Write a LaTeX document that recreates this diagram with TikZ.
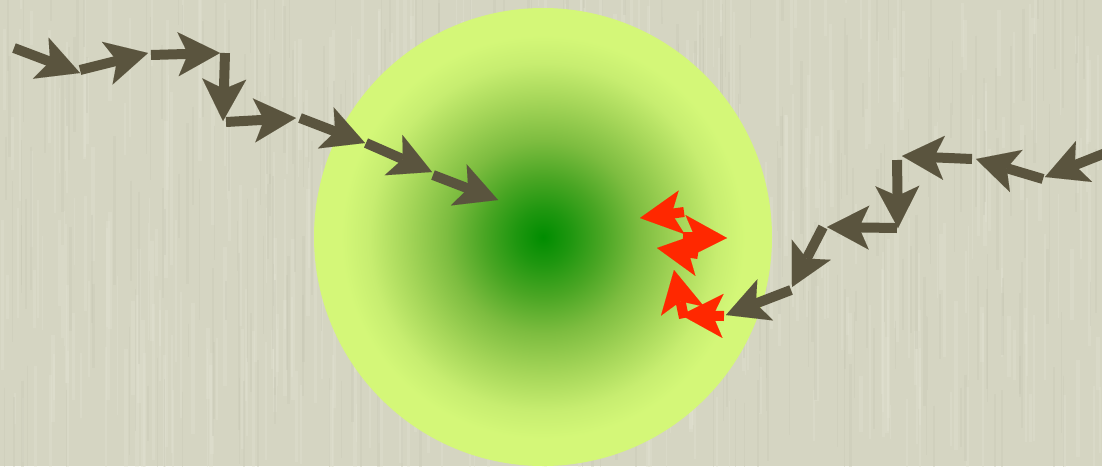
\documentclass[tikz,border=0pt]{standalone}
\usetikzlibrary{arrows.meta}
\definecolor{bgbase}{RGB}{213,213,194}
\definecolor{bglight}{RGB}{226,226,211}
\definecolor{bgdark}{RGB}{199,199,180}
\definecolor{arrowolive}{RGB}{90,84,62}
\definecolor{arrowred}{RGB}{255,40,0}
\pgfdeclareradialshading{ballshade}{\pgfpoint{0bp}{0bp}}{%
 rgb(0bp)=(0,0.55,0);
 rgb(3bp)=(0.12,0.59,0.06);
 rgb(6.5bp)=(0.29,0.65,0.14);
 rgb(10.5bp)=(0.49,0.74,0.25);
 rgb(15bp)=(0.65,0.84,0.35);
 rgb(19bp)=(0.78,0.93,0.44);
 rgb(22bp)=(0.83,0.97,0.47);
 rgb(25bp)=(0.83,0.97,0.47);
 rgb(50bp)=(0.83,0.97,0.47)}
\tikzset{
  walkarrow/.style={line width=10pt,
    -{Stealth[length=42pt,width=44pt,inset=10pt,line width=0.01pt]}},
  outside/.style={walkarrow, draw=arrowolive},
  inside/.style={walkarrow, draw=arrowred},
  streaklight/.style={bglight, opacity=0.35},
  streakdark/.style={bgdark, opacity=0.35},
}
\begin{document}
\begin{tikzpicture}[x=1pt,y=-1pt]
\useasboundingbox (0,0) rectangle (1102,466);
\clip (0,0) rectangle (1102,466);
% textured background
\fill[bgbase] (0,0) rectangle (1102,466);
\pgfmathsetseed{7}
\foreach \i in {1,...,420}{
  \pgfmathsetmacro\xx{rnd*1102}
  \pgfmathsetmacro\yy{rnd*466-60}
  \pgfmathsetmacro\ll{30+rnd*150}
  \pgfmathsetmacro\ww{1+rnd*3}
  \draw[streaklight, line width=\ww pt] (\xx,\yy) -- ++(0,\ll);
}
\foreach \i in {1,...,320}{
  \pgfmathsetmacro\xx{rnd*1102}
  \pgfmathsetmacro\yy{rnd*466-60}
  \pgfmathsetmacro\ll{30+rnd*150}
  \pgfmathsetmacro\ww{0.8+rnd*2}
  \draw[streakdark, line width=\ww pt] (\xx,\yy) -- ++(0,\ll);
}
% green ball
\shade[shading=ballshade] (543,237) circle[radius=229];
% incoming walk (left)
\foreach \xa/\ya/\xb/\yb in {14/48/80/73, 80/70/148/53, 151/55/220/53,
  225/53/223/121, 226/122/296/118, 300/118/365/143, 366/143/432/172,
  433/175/498/200}
  \draw[outside] (\xa,\ya) -- (\xb,\yb);
% incoming walk (right)
\foreach \xa/\ya/\xb/\yb in {1108/152/1045/177, 1043/179/976/159,
  972/159/902/156, 897/160/898/228, 897/228/827/227, 823/227/792/287,
  791/290/726/315}
  \draw[outside] (\xa,\ya) -- (\xb,\yb);
% scattering inside the ball
\foreach \xa/\ya/\xb/\yb in {724/316/681/315, 684/318/674/270,
  698/254/657/248, 683/237/727/238, 684/212/640/218}
  \draw[inside] (\xa,\ya) -- (\xb,\yb);
\end{tikzpicture}
\end{document}
